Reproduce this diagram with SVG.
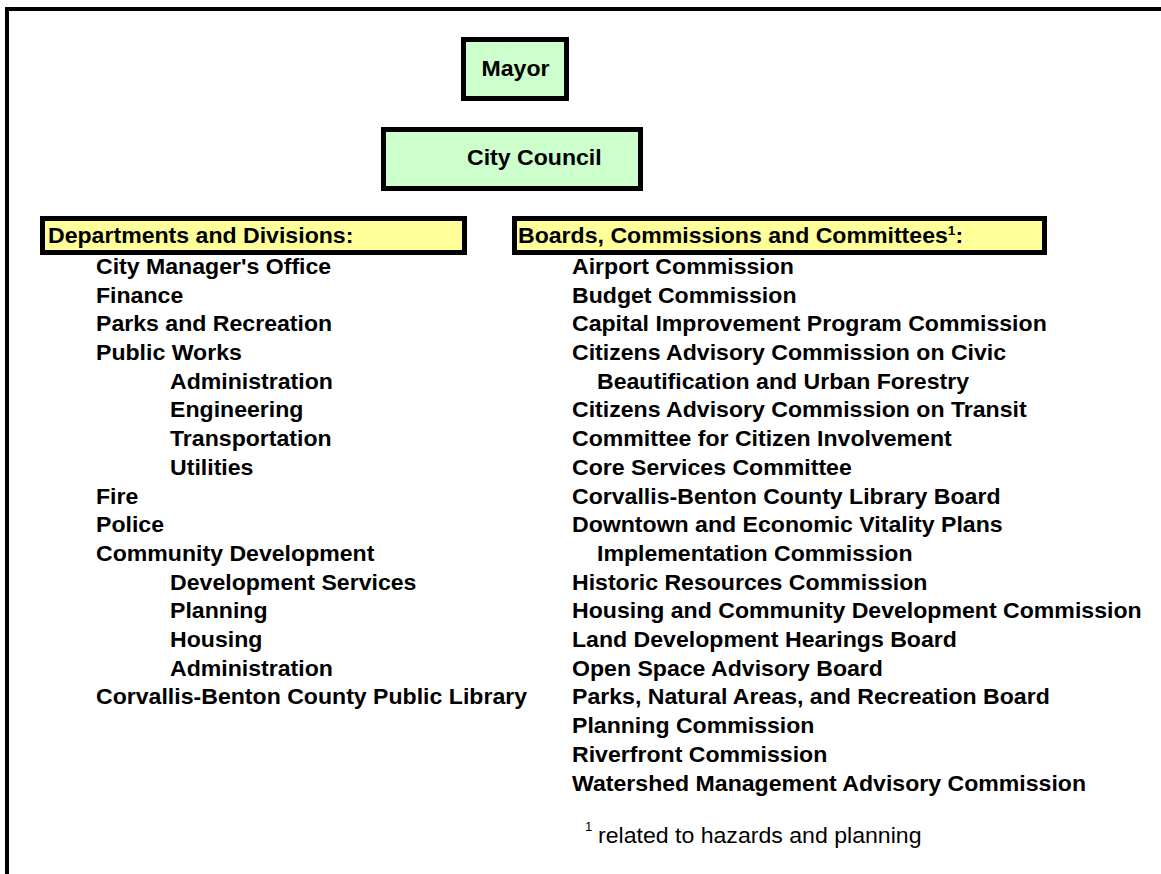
<svg xmlns="http://www.w3.org/2000/svg" width="1161" height="874" viewBox="0 0 1161 874">
  <style>
    .frame { fill: none; stroke: #000; stroke-width: 4; }
    .office { fill: #ccffcc; stroke: #000; stroke-width: 5; }
    .heading { fill: #ffff99; stroke: #000; stroke-width: 5; }
    text { font-family: "Liberation Sans", Arial, Helvetica, sans-serif; font-size: 22px; fill: #000; }
    .b { font-weight: bold; }
    .sup { font-size: 13px; }
  </style>

  <!-- page frame: top and left rules -->
  <path class="frame" d="M7,874 V9 H1161"/>

  <!-- executive offices -->
  <g id="mayor">
    <rect class="office" x="463.5" y="39.5" width="103" height="59"/>
    <text class="b" transform="translate(515.5,76) scale(1.05,1)" text-anchor="middle">Mayor</text>
  </g>
  <g id="city-council">
    <rect class="office" x="383.5" y="129.5" width="257" height="59"/>
    <text class="b" transform="translate(467,165) scale(1.05,1)">City Council</text>
  </g>

  <!-- no connectors are drawn between the blocks -->
  <g id="connectors"/>

  <!-- departments column -->
  <g id="departments">
    <rect class="heading" x="42.5" y="218.5" width="422" height="34"/>
    <text class="b" transform="translate(48,243) scale(1.05,1)">Departments and Divisions:</text>
    <g transform="translate(96,0) scale(1.05,1)">
      <text class="b" x="0" y="274">City Manager's Office</text>
      <text class="b" x="0" y="302.7">Finance</text>
      <text class="b" x="0" y="331.4">Parks and Recreation</text>
      <text class="b" x="0" y="360.1">Public Works</text>
      <text class="b" x="70.5" y="388.8">Administration</text>
      <text class="b" x="70.5" y="417.5">Engineering</text>
      <text class="b" x="70.5" y="446.2">Transportation</text>
      <text class="b" x="70.5" y="474.9">Utilities</text>
      <text class="b" x="0" y="503.6">Fire</text>
      <text class="b" x="0" y="532.3">Police</text>
      <text class="b" x="0" y="561">Community Development</text>
      <text class="b" x="70.5" y="589.7">Development Services</text>
      <text class="b" x="70.5" y="618.4">Planning</text>
      <text class="b" x="70.5" y="647.1">Housing</text>
      <text class="b" x="70.5" y="675.8">Administration</text>
      <text class="b" x="0" y="704.5">Corvallis-Benton County Public Library</text>
    </g>
  </g>

  <!-- boards and commissions column -->
  <g id="boards">
    <rect class="heading" x="514.5" y="218.5" width="530" height="34"/>
    <text class="b" transform="translate(518,243) scale(1.05,1)">Boards, Commissions and Committees<tspan class="sup" dy="-8">1</tspan><tspan dy="8">:</tspan></text>
    <g transform="translate(572,0) scale(1.05,1)">
      <text class="b" x="0" y="274">Airport Commission</text>
      <text class="b" x="0" y="302.7">Budget Commission</text>
      <text class="b" x="0" y="331.4">Capital Improvement Program Commission</text>
      <text class="b" x="0" y="360.1">Citizens Advisory Commission on Civic</text>
      <text class="b" x="23.8" y="388.8">Beautification and Urban Forestry</text>
      <text class="b" x="0" y="417.5">Citizens Advisory Commission on Transit</text>
      <text class="b" x="0" y="446.2">Committee for Citizen Involvement</text>
      <text class="b" x="0" y="474.9">Core Services Committee</text>
      <text class="b" x="0" y="503.6">Corvallis-Benton County Library Board</text>
      <text class="b" x="0" y="532.3">Downtown and Economic Vitality Plans</text>
      <text class="b" x="23.8" y="561">Implementation Commission</text>
      <text class="b" x="0" y="589.7">Historic Resources Commission</text>
      <text class="b" x="0" y="618.4">Housing and Community Development Commission</text>
      <text class="b" x="0" y="647.1">Land Development Hearings Board</text>
      <text class="b" x="0" y="675.8">Open Space Advisory Board</text>
      <text class="b" x="0" y="704.5">Parks, Natural Areas, and Recreation Board</text>
      <text class="b" x="0" y="733.2">Planning Commission</text>
      <text class="b" x="0" y="761.9">Riverfront Commission</text>
      <text class="b" x="0" y="790.6">Watershed Management Advisory Commission</text>
    </g>
    <text class="sup" x="585" y="831">1</text>
    <text transform="translate(598,843) scale(1.05,1)">related to hazards and planning</text>
  </g>
</svg>
